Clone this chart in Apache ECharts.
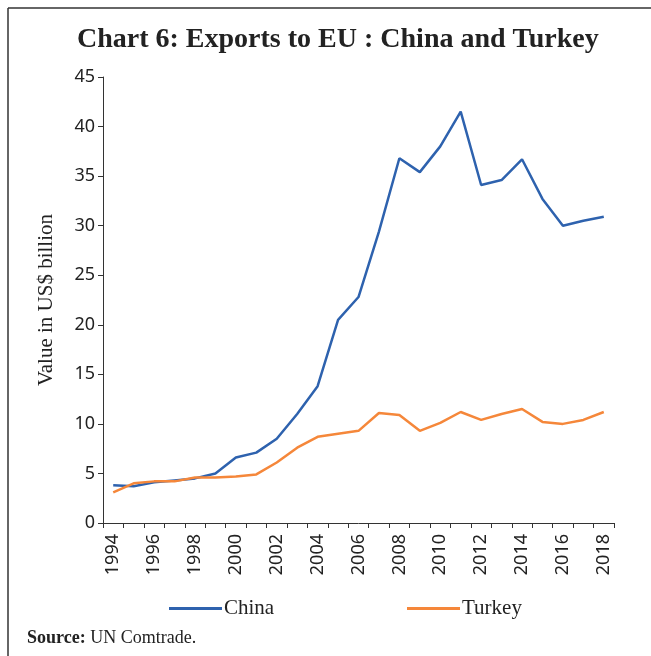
<!DOCTYPE html>
<html>
<head>
<meta charset="utf-8">
<script src="https://cdn.jsdelivr.net/npm/echarts@6/dist/echarts.min.js"></script>
<style>
  html, body { margin: 0; padding: 0; background: #fff; }
  #chart { width: 651px; height: 656px; }
</style>
</head>
<body>
<div id="chart"></div>
<script>
// Exports to the EU, US$ billion
const years = ['1994','1995','1996','1997','1998','1999','2000','2001','2002','2003','2004','2005','2006',
               '2007','2008','2009','2010','2011','2012','2013','2014','2015','2016','2017','2018'];
const china = [3.8, 3.7, 4.1, 4.3, 4.5, 5.0, 6.6, 7.1, 8.5, 11.0, 13.8, 20.5, 22.8,
               29.4, 36.8, 35.4, 38.0, 41.5, 34.1, 34.6, 36.7, 32.7, 30.0, 30.5, 30.9];
const turkey = [3.1, 4.0, 4.2, 4.2, 4.6, 4.6, 4.7, 4.9, 6.1, 7.6, 8.7, 9.0, 9.3,
                11.1, 10.9, 9.3, 10.1, 11.2, 10.4, 11.0, 11.5, 10.2, 10.0, 10.4, 11.2];
const yTicks = { min: 0, max: 45, step: 5 };

const serif = '"Liberation Serif", "DejaVu Serif", serif';
const sans = '"Noto Sans", "Open Sans", sans-serif';
const blue = '#2E62AE';
const orange = '#F5873A';

const chart = echarts.init(document.getElementById('chart'), null, { renderer: 'canvas' });

chart.setOption({
  animation: false,
  backgroundColor: '#fff',
  title: {
    text: 'Chart 6: Exports to EU : China and Turkey',
    left: 72,
    top: 21,
    textStyle: { fontFamily: serif, fontWeight: 'bold', fontSize: 28, color: '#222' }
  },
  graphic: [
    // frame on the top and left edges
    { type: 'line', shape: { x1: 8, y1: 8, x2: 651, y2: 8 }, style: { stroke: '#333', lineWidth: 1.5 } },
    { type: 'line', shape: { x1: 8, y1: 8, x2: 8, y2: 656 }, style: { stroke: '#333', lineWidth: 1.5 } },
    {
      type: 'text', left: 27, top: 629,
      style: {
        text: '{b|Source:} UN Comtrade.',
        font: '18px ' + serif,
        fill: '#222',
        rich: { b: { fontFamily: serif, fontWeight: 'bold', fontSize: 18, fill: '#222' } }
      }
    }
  ],
  legend: [
    {
      data: ['China'], left: 164, top: 593, icon: 'rect', itemWidth: 53, itemHeight: 3,
      textStyle: { fontFamily: serif, fontSize: 21, color: '#222', padding: [0, 0, 0, -3] }
    },
    {
      data: ['Turkey'], left: 402, top: 593, icon: 'rect', itemWidth: 53, itemHeight: 3,
      textStyle: { fontFamily: serif, fontSize: 21, color: '#222', padding: [0, 0, 0, -3] }
    }
  ],
  grid: { left: 103, right: 37, top: 77, bottom: 133, containLabel: false },
  xAxis: {
    type: 'category',
    data: years,
    boundaryGap: true,
    axisLine: { lineStyle: { color: '#333', width: 1 } },
    axisTick: { show: true, interval: 0, length: 5, lineStyle: { color: '#333' } },
    axisLabel: { interval: 1, rotate: 90, fontFamily: sans, fontSize: 18, color: '#222', margin: 11 }
  },
  yAxis: {
    type: 'value',
    min: yTicks.min, max: yTicks.max, interval: yTicks.step,
    name: 'Value in US$ billion',
    nameLocation: 'middle',
    nameGap: 46,
    nameTextStyle: { fontFamily: serif, fontSize: 21, color: '#222' },
    axisLine: { show: true, lineStyle: { color: '#333', width: 1 } },
    axisTick: { show: true, length: 5, lineStyle: { color: '#333' } },
    splitLine: { show: false },
    axisLabel: { fontFamily: sans, fontSize: 18, color: '#222', margin: 8 }
  },
  series: [
    {
      name: 'China', type: 'line', data: china, symbol: 'none',
      lineStyle: { color: blue, width: 2.5 }, itemStyle: { color: blue }
    },
    {
      name: 'Turkey', type: 'line', data: turkey, symbol: 'none',
      lineStyle: { color: orange, width: 2.5 }, itemStyle: { color: orange }
    }
  ]
});
</script>
</body>
</html>
